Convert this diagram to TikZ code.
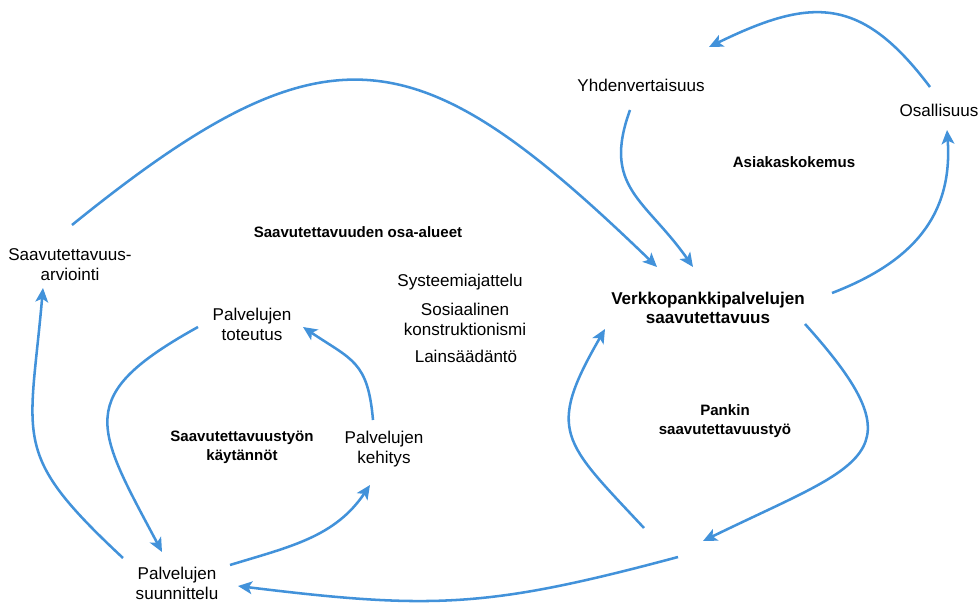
\documentclass[tikz,border=0pt]{standalone}
\usepackage{fontspec}
\setmainfont{Liberation Sans}
\usepackage{xcolor}
\usepackage{tikz}
\usetikzlibrary{arrows.meta, positioning, calc}

\definecolor{loopblue}{RGB}{66,146,218}

\begin{document}
\begin{tikzpicture}[
    x=0.75pt, y=0.75pt,
    lbl/.style={align=center, inner sep=1pt, font=\fontsize{12.8}{15}\selectfont},
    theme/.style={align=center, inner sep=1pt, font=\bfseries\fontsize{11.3}{14}\selectfont},
    core/.style={align=center, inner sep=1pt, font=\bfseries\fontsize{12.8}{14.5}\selectfont},
    arrow/.style={-{Stealth[length=10.5pt, width=9.5pt, inset=2.5pt]}, line width=1.9pt, draw=loopblue}
]
    \useasboundingbox (0,0) rectangle (980,604);

    % Asiakaskokemus loop
    \node[lbl] (yhd) at (641,519) {Yhdenvertaisuus};
    \node[lbl] (osall) at (939,494) {Osallisuus};
    \node[theme] (asiakas) at (794,442) {Asiakaskokemus};
    \node[core] (verkko) at (708,296) {Verkkopankkipalvelujen\\saavutettavuus};

    % Saavutettavuuden osa-alueet
    \node[theme] (osaalue) at (358,372) {Saavutettavuuden osa-alueet};
    \node[lbl] (syst) at (460,322) {Systeemiajattelu};
    \node[lbl] (sosiaal) at (465,285) {Sosiaalinen\\konstruktionismi};
    \node[lbl] (lain) at (466,248) {Lainsäädäntö};

    % Saavutettavuustyon kaytannot
    \node[lbl] (arvio) at (70,339) {Saavutettavuus-\\arviointi};
    \node[lbl] (toteutus) at (252,280) {Palvelujen\\toteutus};
    \node[theme] (tyon) at (242,157) {Saavutettavuustyön\\käytännöt};
    \node[lbl] (kehitys) at (384,155) {Palvelujen\\kehitys};
    \node[lbl] (suunn) at (177,21) {Palvelujen\\suunnittelu};

    % Pankin saavutettavuustyo
    \node[theme] (pankki) at (725,183) {Pankin\\saavutettavuustyö};
    \coordinate (hub) at (690,59);

    % Connections
    \draw[arrow] ($(arvio)+(2,40)$) to[out=39, in=136, looseness=1.45] ($(verkko)+(-51,41)$);
    \draw[arrow] ($(yhd)+(-11,-25)$) to[out=250, in=125, looseness=1.25] ($(verkko)+(-15,41)$);
    \draw[arrow] ($(osall)+(-9,23)$) to[out=127, in=26, looseness=1.3] ($(yhd)+(68,38)$);
    \draw[arrow] ($(verkko)+(124,15)$) to[out=21, in=-86, looseness=1.1] ($(osall)+(8,-20)$);

    \draw[arrow] ($(verkko)+(97,-16)$) to[out=-48, in=26, looseness=1.9] ($(hub)+(13,4)$);
    \draw[arrow] ($(hub)+(-46,17)$) to[out=133, in=240, looseness=1.5] ($(verkko)+(-103,-21)$);
    \draw[arrow] ($(hub)+(-12,-12)$) to[out=195, in=-7, looseness=1.14] ($(suunn)+(61,-3)$);

    \draw[arrow] ($(suunn)+(-54,25)$) to[out=137, in=265, looseness=1.4] ($(arvio)+(-27,-23)$);
    \draw[arrow] ($(toteutus)+(-54,-3)$) to[out=209, in=118, looseness=1.6] ($(suunn)+(-15,31)$);
    \draw[arrow] ($(suunn)+(53,18)$) to[out=17, in=236] ($(kehitys)+(-14,-36)$);
    \draw[arrow] ($(kehitys)+(-11,29)$) to[out=95, in=-34, looseness=1.3] ($(toteutus)+(51,-3)$);
\end{tikzpicture}
\end{document}
